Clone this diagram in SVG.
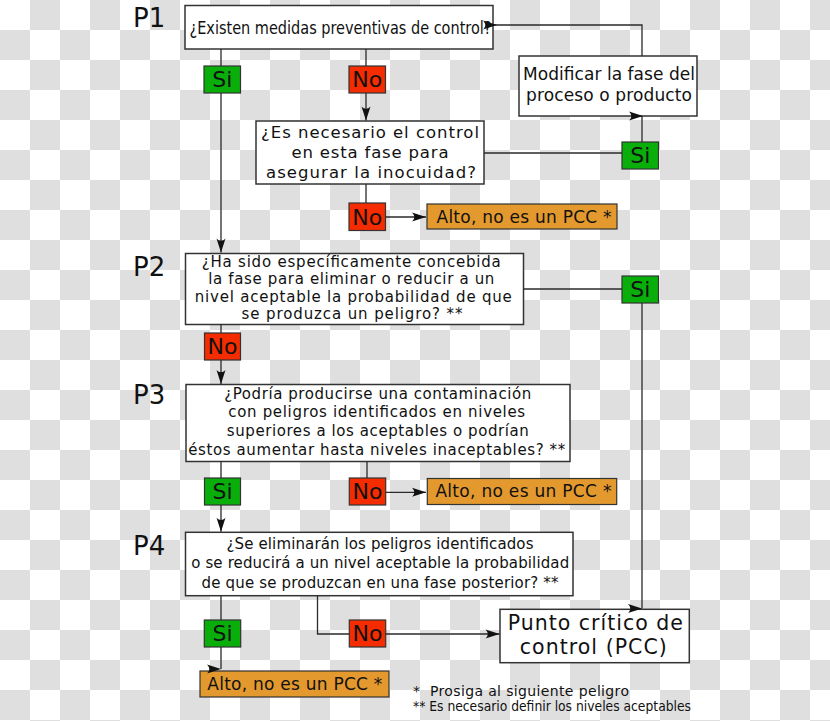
<svg xmlns="http://www.w3.org/2000/svg" xmlns:xlink="http://www.w3.org/1999/xlink" width="830" height="721" viewBox="0 0 830 721">
<defs>
  <pattern id="checker" width="60" height="60" patternUnits="userSpaceOnUse">
    <rect width="60" height="60" fill="#ffffff"/>
    <rect x="30" y="0" width="30" height="30" fill="#dfdfdf"/>
    <rect x="0" y="30" width="30" height="30" fill="#dfdfdf"/>
  </pattern>
  <marker id="arr" viewBox="-15 -6 16 12" refX="0" refY="0" markerWidth="16" markerHeight="12" orient="auto" markerUnits="userSpaceOnUse">
    <path d="M0,0 L-14,-4.5 C-11,-1.5 -11,1.5 -14,4.5 Z" fill="#111"/>
  </marker>
  <path id="ahR" d="M0,0 L-14,-4.5 C-11,-1.5 -11,1.5 -14,4.5 Z"/>
</defs>
<style>
  .box{fill:#ffffff;stroke:#333;stroke-width:1.5}
  .si{fill:#0aae0a;stroke:#333;stroke-width:1.2}
  .no{fill:#f52c00;stroke:#333;stroke-width:1.2}
  .alto{fill:#e3992d;stroke:#333;stroke-width:1.2}
  text{font-family:'DejaVu Sans','Liberation Sans',sans-serif;fill:#111}
  .cond{font-family:'DejaVu Sans Condensed','DejaVu Sans','Liberation Sans',sans-serif}
  .plbl{font-size:26px}
  .yn{font-size:22px;text-anchor:middle}
  .q{font-size:15px;text-anchor:middle}
  .m{text-anchor:middle}
  .c{fill:none;stroke:#2a2a2a;stroke-width:1.3}
  .ah{fill:#111}
</style>
<rect width="830" height="721" fill="url(#checker)"/>

<g id="P1">
  <text class="plbl" x="133" y="27">P1</text>
  <rect class="box" x="185" y="5.5" width="308" height="43.5"/>
  <text class="cond m" x="340.5" y="34" font-size="18.5" textLength="302" lengthAdjust="spacingAndGlyphs">¿Existen medidas preventivas de control?</text>
</g>
<g id="P1-si">
  <rect class="si" x="204" y="66" width="36.5" height="27"/>
  <text class="yn" x="222.3" y="87">Si</text>
</g>
<g id="P1-no">
  <rect class="no" x="349" y="66" width="36.5" height="27"/>
  <text class="yn" x="367.3" y="87">No</text>
</g>
<g id="modificar">
  <rect class="box" x="519" y="56" width="178" height="60"/>
  <text class="m" x="609" y="80" font-size="17" textLength="172">Modificar la fase del</text>
  <text class="m" x="609" y="101" font-size="17" textLength="166">proceso o producto</text>
</g>
<g id="mod-si">
  <rect class="si" x="622" y="142" width="36.5" height="27"/>
  <text class="yn" x="640.3" y="163">Si</text>
</g>
<g id="necesario">
  <rect class="box" x="256" y="121" width="228" height="63"/>
  <text class="m" x="370" y="137.7" font-size="16.5" textLength="218">¿Es necesario el control</text>
  <text class="m" x="370" y="157.7" font-size="16.5" textLength="157">en esta fase para</text>
  <text class="m" x="371" y="177.7" font-size="16.5" textLength="210">asegurar la inocuidad?</text>
</g>
<g id="nec-no">
  <rect class="no" x="349" y="203" width="36.5" height="27.5"/>
  <text class="yn" x="367.3" y="224.5">No</text>
</g>
<g id="alto1">
  <rect class="alto" x="427" y="204" width="190" height="25"/>
  <text class="m" x="524" y="222.5" font-size="17" textLength="175">Alto, no es un PCC *</text>
</g>

<g id="P2">
  <text class="plbl" x="133" y="276">P2</text>
  <rect class="box" x="185.5" y="253.5" width="338" height="71"/>
  <text class="q" x="351.2" y="267" textLength="299">¿Ha sido específicamente concebida</text>
  <text class="q" x="351.3" y="284.3" textLength="286">la fase para eliminar o reducir a un</text>
  <text class="q" x="353.3" y="301.7" textLength="317">nivel aceptable la probabilidad de que</text>
  <text class="q" x="352" y="318.5" textLength="221">se produzca un peligro? **</text>
</g>
<g id="P2-si">
  <rect class="si" x="622" y="276" width="36.5" height="27"/>
  <text class="yn" x="640.3" y="297">Si</text>
</g>
<g id="P2-no">
  <rect class="no" x="204.5" y="333" width="36" height="27"/>
  <text class="yn" x="222.5" y="354">No</text>
</g>

<g id="P3">
  <text class="plbl" x="133" y="403.5">P3</text>
  <rect class="box" x="186" y="384.5" width="384" height="77"/>
  <text class="q" x="377.7" y="398.7" textLength="307">¿Podría producirse una contaminación</text>
  <text class="q" x="376.7" y="417.3" textLength="297">con peligros identificados en niveles</text>
  <text class="q" x="377.8" y="436.3" textLength="302">superiores a los aceptables o podrían</text>
  <text class="q" x="376.7" y="454.7" textLength="377">éstos aumentar hasta niveles inaceptables? **</text>
</g>
<g id="P3-si">
  <rect class="si" x="204.5" y="478" width="36" height="27"/>
  <text class="yn" x="222.5" y="499">Si</text>
</g>
<g id="P3-no">
  <rect class="no" x="349.3" y="478" width="36.4" height="27"/>
  <text class="yn" x="367.5" y="499">No</text>
</g>
<g id="alto3">
  <rect class="alto" x="427.3" y="478.5" width="189.4" height="26"/>
  <text class="m" x="523.4" y="497.3" font-size="17" textLength="176">Alto, no es un PCC *</text>
</g>

<g id="P4">
  <text class="plbl" x="133" y="555">P4</text>
  <rect class="box" x="185.5" y="532.3" width="387.5" height="63.4"/>
  <text class="m" x="380" y="549" font-size="15" textLength="307">¿Se eliminarán los peligros identificados</text>
  <text class="m" x="380.2" y="568.3" font-size="15" textLength="378">o se reducirá a un nivel aceptable la probabilidad</text>
  <text class="m" x="380" y="587.7" font-size="15" textLength="357">de que se produzcan en una fase posterior? **</text>
</g>
<g id="P4-si">
  <rect class="si" x="204.3" y="620" width="36.4" height="27"/>
  <text class="yn" x="222.5" y="641">Si</text>
</g>
<g id="P4-no">
  <rect class="no" x="349.3" y="620" width="36.4" height="27"/>
  <text class="yn" x="367.5" y="641">No</text>
</g>
<g id="alto4">
  <rect class="alto" x="200" y="671" width="189" height="26"/>
  <text class="m" x="294.8" y="690" font-size="17" textLength="175">Alto, no es un PCC *</text>
</g>
<g id="pcc">
  <rect class="box" x="500" y="609.3" width="189.3" height="53.4"/>
  <text class="m" x="595.3" y="630" font-size="20.5" textLength="175">Punto crítico de</text>
  <text class="m" x="593.3" y="654" font-size="20.5" textLength="147">control (PCC)</text>
</g>
<g id="notas">
  <text x="413" y="696" font-size="14" textLength="216" xml:space="preserve">*  Prosiga al siguiente peligro</text>
  <text class="cond" x="413" y="711" font-size="13.5" textLength="278" lengthAdjust="spacingAndGlyphs">** Es necesario definir los niveles aceptables</text>
</g>

<g id="connectors">
  <path class="c" d="M221,49 V66"/>
  <path class="c" d="M221,93 V252.5" marker-end="url(#arr)"/>
  <path class="c" d="M366,49 V66"/>
  <path class="c" d="M366,93 V120.5" marker-end="url(#arr)"/>
  <path class="c" d="M642,56 V25 H494"/>
  <use href="#ahR" xlink:href="#ahR" class="ah" x="497" y="25"/>
  <path class="c" d="M484,153 H622"/>
  <path class="c" d="M642,142 V116"/>
  <use href="#ahR" xlink:href="#ahR" class="ah" x="643" y="116"/>
  <path class="c" d="M366,184 V203"/>
  <path class="c" d="M385.5,217 H426" marker-end="url(#arr)"/>
  <path class="c" d="M523.5,289 H622"/>
  <path class="c" d="M642,303 V608.5"/>
  <use href="#ahR" xlink:href="#ahR" class="ah" x="642" y="608.5"/>
  <path class="c" d="M221,324.5 V333"/>
  <path class="c" d="M221,360 V384" marker-end="url(#arr)"/>
  <path class="c" d="M221,461.5 V478"/>
  <path class="c" d="M221,505 V531.8" marker-end="url(#arr)"/>
  <path class="c" d="M367,461.5 V478"/>
  <path class="c" d="M385.7,492.3 H426" marker-end="url(#arr)"/>
  <path class="c" d="M221,595.7 V620"/>
  <path class="c" d="M221,647 V669"/>
  <use href="#ahR" xlink:href="#ahR" class="ah" x="221" y="669"/>
  <path class="c" d="M317.5,595.7 V634 H349.3"/>
  <path class="c" d="M385.7,634 H499.5" marker-end="url(#arr)"/>
</g>
</svg>
